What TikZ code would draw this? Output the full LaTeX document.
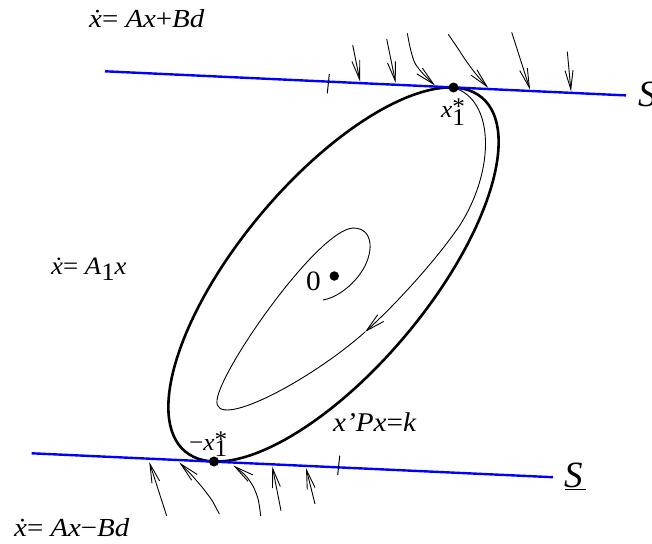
\documentclass[tikz,border=0pt]{standalone}
\usepackage{fontspec}
\setmainfont{Liberation Serif}
\usepackage{graphicx}
\usetikzlibrary{arrows.meta}
\begin{document}
\begin{tikzpicture}[x=1pt,y=-1pt,
  thickcurve/.style={line width=2.6pt},
  thincurve/.style={line width=0.9pt},
  sepline/.style={blue, line width=2.4pt},
  flow/.style={line width=0.9pt, -{Straight Barb[length=19pt,width=8pt]}},
  tickmark/.style={line width=1pt},
  eqpt/.style={circle, fill=black, inner sep=0pt, minimum size=10pt},
  lbl/.style={inner sep=0pt, anchor=base west}]
\useasboundingbox (0,0) rectangle (652,543);
\coordinate (O) at (333.5,274.5);
% outer level set
\draw[thickcurve, rotate around={50:(O)}] (O) ellipse [x radius=230.9pt, y radius=94.4pt];
% switching lines
\coordinate (Ltl) at (105,71.3); \coordinate (Ltr) at (626,95.4);
\coordinate (Lbl) at (31.7,453.3); \coordinate (Lbr) at (553,477.2);
\draw[sepline] (Ltl) -- (Ltr);
\draw[sepline] (Lbl) -- (Lbr);
% tick marks
\coordinate (tta) at (329.3,74); \coordinate (ttb) at (327.3,93.3);
\coordinate (tba) at (339.7,455.7); \coordinate (tbb) at (337.7,475);
\draw[tickmark] (tta) -- (ttb);
\draw[tickmark] (tba) -- (tbb);
% inner trajectory
\coordinate (ia) at (453.5,87.5);
\coordinate (ib) at (460,225);
\coordinate (ic) at (365,332);
\coordinate (id) at (217,400);
\coordinate (ie) at (353,228);
\coordinate (if) at (360,274);
\coordinate (ig) at (323,300);
\draw[thincurve, -{Straight Barb[length=19pt,width=9pt]}] (ia) .. controls (495,100) and (495,170) .. (ib) .. controls (435,262) and (392,308) .. (ic);
\draw[thincurve] (ic) .. controls (310,381) and (213,432) .. (id) .. controls (221,368) and (318,230) .. (ie) .. controls (375,228) and (374,255) .. (if) .. controls (350,288) and (335,298) .. (ig);
% flow arrows above the top line
\draw[flow] (352.7,45) -- (360,81.5);
\draw[flow] (386.7,39) -- (395.7,83);
\draw[flow] plot[smooth] coordinates {(407.3,33.3) (410.7,50) (415,63.3) (423.3,74) (435,85.5)};
\draw[flow] plot[smooth] coordinates {(448.3,34.3) (456.7,46.7) (466.7,61.7) (476.7,75) (488.3,88)};
\draw[flow] (511.7,32.3) -- (530,89.5);
\draw[flow] (567.3,51.7) -- (571,91.5);
% flow arrows below the bottom line
\draw[flow] (166.7,516) -- (149.3,462);
\draw[flow] plot[smooth] coordinates {(219.3,514) (211.7,500) (201.7,486.7) (190,473.3) (179.3,462.5)};
\draw[flow] plot[smooth] coordinates {(260.7,516) (258.3,500) (253.3,486.7) (245,475) (233.3,465.5)};
\draw[flow] (281,510.7) -- (272.3,466.5);
\draw[flow] (315,504) -- (306,468);
% equilibrium points
\node[eqpt] (xs) at (453.5,87.5) {};
\node[eqpt] (mxs) at (214,461.5) {};
\node[eqpt, minimum size=9.5pt] (zero) at (334.3,276) {};
% labels
\node[lbl] (eqtop) at (89,27.3) {\scalebox{1.11}[1]{\fontsize{26}{30}\selectfont\textit{\.{x}}= \textit{Ax}+\textit{Bd}}};
\node[lbl] (eqbot) at (14,536.7) {\scalebox{1.11}[1]{\fontsize{26}{30}\selectfont\textit{\.{x}}= \textit{Ax}−\textit{Bd}}};
\node[lbl] (eqmid) at (51,274.3) {\scalebox{1.07}[1]{\fontsize{25}{29}\selectfont\textit{\.{x}}= \textit{A}\raisebox{-5.7pt}{1}\textit{x}}};
\node[lbl] (lev) at (333,431.7) {\scalebox{1.08}[1]{\fontsize{27}{31}\selectfont\textit{x’Px}=\textit{k}}};
\node[lbl] (xslbl) at (441,117.3) {\scalebox{1.05}[1]{\fontsize{24}{28}\selectfont\textit{x}\rlap{\raisebox{2.7pt}{*}}\raisebox{-7.7pt}{1}}};
\node[lbl] (mxslbl) at (189,450) {\scalebox{1.05}[1]{\fontsize{24}{28}\selectfont −\textit{x}\rlap{\raisebox{2.5pt}{*}}\raisebox{-6.7pt}{1}}};
\node[lbl] (zlbl) at (306,290) {\scalebox{1.05}[1]{\fontsize{28}{31}\selectfont 0}};
\node[lbl] (stop) at (638,106.7) {\fontsize{37}{40}\selectfont\textit{S}};
\node[lbl] (sbot) at (564,487) {\fontsize{37}{40}\selectfont\textit{S}};
\coordinate (ula) at (565,489.5); \coordinate (ulb) at (586,489.5);
\draw[line width=1.2pt] (ula) -- (ulb);
\end{tikzpicture}
\end{document}
